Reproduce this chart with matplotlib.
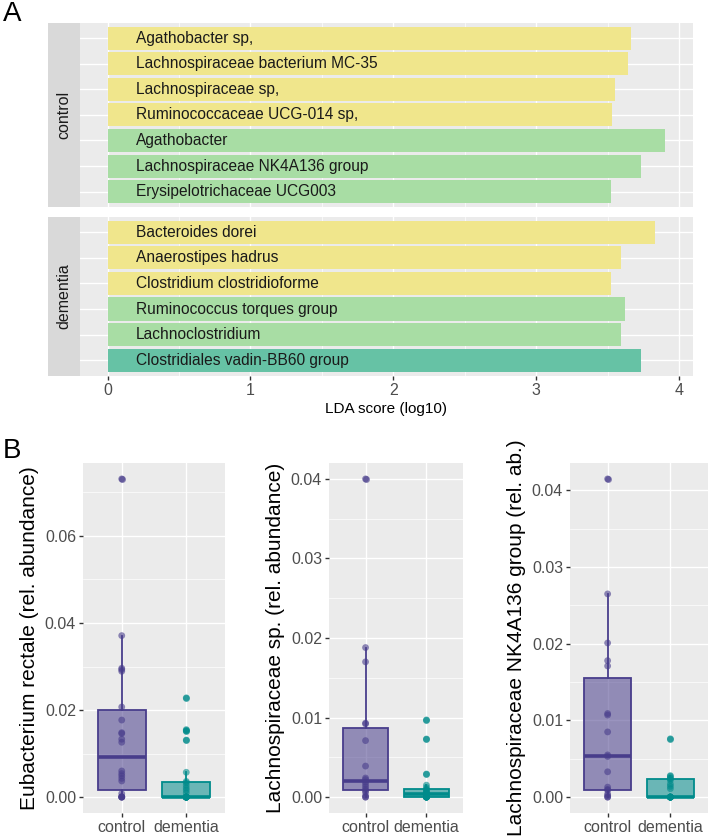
import numpy as np
import matplotlib
matplotlib.use('Agg')
import matplotlib.pyplot as plt
from matplotlib.ticker import MultipleLocator, FormatStrFormatter

plt.rcParams['font.family'] = ['Liberation Sans', 'DejaVu Sans']

# ---------------- data ----------------
ctrl_taxa = ["Agathobacter sp,", "Lachnospiraceae bacterium MC-35", "Lachnospiraceae sp,",
             "Ruminococcaceae UCG-014 sp,", "Agathobacter", "Lachnospiraceae NK4A136 group",
             "Erysipelotrichaceae UCG003"]
ctrl_lda = [3.66, 3.64, 3.55, 3.53, 3.90, 3.73, 3.52]
ctrl_level = ["species", "species", "species", "species", "genus", "genus", "genus"]

dem_taxa = ["Bacteroides dorei", "Anaerostipes hadrus", "Clostridium clostridioforme",
            "Ruminococcus torques group", "Lachnoclostridium", "Clostridiales vadin-BB60 group"]
dem_lda = [3.83, 3.59, 3.52, 3.62, 3.59, 3.73]
dem_level = ["species", "species", "species", "genus", "genus", "family"]

level_colors = {"species": "#F0E68C", "genus": "#A8DDA4", "family": "#66C2A5"}

groups = ["control", "dementia"]
group_colors = ["#483D8B", "#008B8B"]

eub_ctrl = [0, 0, 0, 0, 0.0001, 0.0008, 0.0037, 0.0043, 0.0049, 0.0054, 0.0060,
            0.0126, 0.0133, 0.0146, 0.0148, 0.0177, 0.0207, 0.0289, 0.0293, 0.0296,
            0.0371, 0.0731]
eub_dem = [0, 0, 0, 0, 0, 0, 0, 0, 0, 0, 0, 0, 0, 0.0010, 0.0016, 0.0021, 0.0027,
           0.0033, 0.0036, 0.0057, 0.0131, 0.0152, 0.0155, 0.0228]
lach_ctrl = [0, 0, 0.0002, 0.0006, 0.0008, 0.0010, 0.0013, 0.0016, 0.0019, 0.0022,
             0.0024, 0.0039, 0.0071, 0.0092, 0.0093, 0.0170, 0.0188, 0.0400]
lach_dem = [0, 0, 0, 0, 0, 0, 0, 0, 0.0002, 0.0003, 0.0004, 0.0005, 0.0006, 0.0008,
            0.0009, 0.0010, 0.0012, 0.0015, 0.0029, 0.0073, 0.0097]
nk_ctrl = [0, 0, 0.0002, 0.0004, 0.0009, 0.0010, 0.0013, 0.0033, 0.0053, 0.0055,
           0.0085, 0.0107, 0.0109, 0.0171, 0.0178, 0.0201, 0.0265, 0.0415]
nk_dem = [0, 0, 0, 0, 0, 0, 0, 0, 0, 0, 0.0011, 0.0014, 0.0017, 0.0022, 0.0024,
          0.0025, 0.0027, 0.0028, 0.0076]

box_titles = ["Eubacterium rectale (rel. abundance)",
              "Lachnospiraceae sp. (rel. abundance)",
              "Lachnospiraceae NK4A136 group (rel. ab.)"]
box_data = [(eub_ctrl, eub_dem), (lach_ctrl, lach_dem), (nk_ctrl, nk_dem)]
box_major = [0.02, 0.01, 0.01]

# ---------------- style ----------------
W, H = 709, 836
BG = "#EBEBEB"
TICKCOL = "#333333"
LABCOL = "#4D4D4D"

fig = plt.figure(figsize=(W / 100, H / 100), dpi=100)


def rect(x0, y0, x1, y1):
    return [x0 / W, 1 - y1 / H, (x1 - x0) / W, (y1 - y0) / H]


def style_axes(ax):
    ax.set_facecolor(BG)
    for s in ax.spines.values():
        s.set_visible(False)
    ax.grid(True, which="major", color="white", lw=1.0, zorder=0)
    ax.grid(True, which="minor", color="white", lw=0.5, zorder=0)
    ax.set_axisbelow(True)
    ax.tick_params(which="major", length=3, width=1.0, color=TICKCOL,
                   labelcolor=LABCOL, labelsize=11.5, pad=2)
    ax.tick_params(which="minor", length=0)


# ---------------- panel A ----------------
all_lda = ctrl_lda + dem_lda
xmax = max(all_lda)
xlim = (-0.05 * xmax, xmax * 1.05)

facets = [(ctrl_taxa, ctrl_lda, ctrl_level, "control", (22.7, 207.0)),
          (dem_taxa, dem_lda, dem_level, "dementia", (216.7, 375.7))]

for i, (taxa, vals, lev, name, (ytop, ybot)) in enumerate(facets):
    ax = fig.add_axes(rect(79.7, ytop, 692.8, ybot))
    style_axes(ax)
    n = len(taxa)
    ypos = np.arange(n, 0, -1)
    ax.barh(ypos, vals, height=0.9, color=[level_colors[l] for l in lev], zorder=2)
    for y, t in zip(ypos, taxa):
        ax.text(0.2, y, t, va="center", ha="left", fontsize=11.2, color="#1A1A1A", zorder=3)
    ax.set_xlim(*xlim)
    ax.set_ylim(0.4, n + 0.6)
    ax.set_yticks(ypos)
    ax.tick_params(axis="y", length=0, labelleft=False)
    ax.xaxis.set_major_locator(MultipleLocator(1))
    ax.xaxis.set_minor_locator(MultipleLocator(0.5))
    ax.yaxis.set_minor_locator(plt.NullLocator())
    if i == 0:
        ax.tick_params(axis="x", length=0, labelbottom=False)
    else:
        ax.set_xlabel("LDA score (log10)", fontsize=11, color="black", labelpad=3)
    # strip
    sax = fig.add_axes(rect(48, ytop, 79.7, ybot))
    sax.set_facecolor("#D9D9D9")
    for s in sax.spines.values():
        s.set_visible(False)
    sax.set_xticks([])
    sax.set_yticks([])
    sax.text(0.5, 0.5, name, rotation=90, ha="center", va="center",
             fontsize=11.5, color="#1A1A1A", transform=sax.transAxes)

fig.text(3 / W, 1 - 14 / H, "A", fontsize=20, ha="left", va="center")
fig.text(3 / W, 1 - 451 / H, "B", fontsize=20, ha="left", va="center")

# ---------------- panel B ----------------
box_rects = [(83, 463, 225, 813), (329, 463, 463, 813), (570, 463, 708, 813)]

for (x0, y0, x1, y1), title, (dc, dd), maj in zip(box_rects, box_titles, box_data, box_major):
    ax = fig.add_axes(rect(x0, y0, x1, y1))
    style_axes(ax)
    for k, (vals, col) in enumerate(zip((dc, dd), group_colors)):
        pos = k + 1
        bp = ax.boxplot([vals], positions=[pos], widths=0.75, patch_artist=True,
                        whis=1.5, showcaps=False, manage_ticks=False,
                        boxprops=dict(facecolor=matplotlib.colors.to_rgba(col, 0.55),
                                      edgecolor=col, lw=1.3),
                        whiskerprops=dict(color=col, lw=1.3),
                        medianprops=dict(color=col, lw=2.6),
                        flierprops=dict(marker="o", markerfacecolor=col, markeredgecolor="none",
                                        markersize=5, alpha=0.6))
        for b in bp["boxes"]:
            b.set_zorder(2)
        for w in bp["whiskers"]:
            w.set_zorder(1.9)
        for m in bp["medians"]:
            m.set_zorder(2.1)
        ax.scatter(np.full(len(vals), pos), vals, s=24, color=col, alpha=0.6,
                   edgecolors="none", zorder=3)
    allv = list(dc) + list(dd)
    lo, hi = min(allv), max(allv)
    rng = hi - lo
    ax.set_ylim(lo - 0.05 * rng, hi + 0.05 * rng)
    ax.set_xlim(0.4, 2.6)
    ax.set_xticks([1, 2])
    ax.set_xticklabels(groups)
    ax.xaxis.set_minor_locator(plt.NullLocator())
    ax.yaxis.set_major_locator(MultipleLocator(maj))
    ax.yaxis.set_minor_locator(MultipleLocator(maj / 2))
    ax.yaxis.set_major_formatter(FormatStrFormatter("%.2f"))
    ax.set_ylabel(title, fontsize=15, color="black", labelpad=4)

fig.savefig("out.png", dpi=100)
